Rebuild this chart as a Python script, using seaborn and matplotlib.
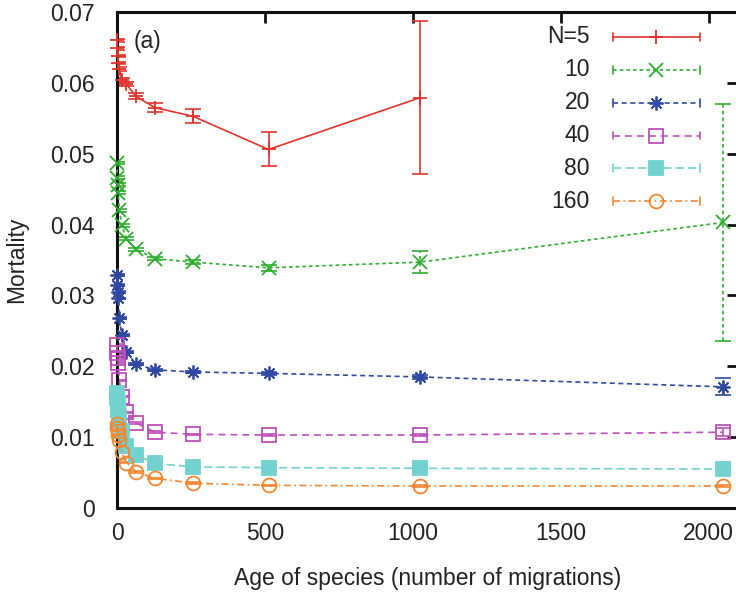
import numpy as np
import pandas as pd
import matplotlib
matplotlib.use("Agg")
import matplotlib.pyplot as plt
import seaborn as sns

# ---------------- data ----------------
ages = [0, 1, 2, 4, 8, 16, 32, 64, 128, 256, 512, 1024, 2048]
ages_5 = ages[:-1]

mort_5 = [0.0660, 0.0649, 0.0638, 0.0628, 0.0620, 0.0604, 0.0598, 0.0581,
          0.0565, 0.0553, 0.0506, 0.0579]
err_5 = [0.0002, 0.0002, 0.0002, 0.0002, 0.0003, 0.0003, 0.0003, 0.0004,
         0.0006, 0.0010, 0.0024, 0.0108]

mort_10 = [0.0487, 0.0466, 0.0456, 0.0445, 0.0420, 0.0399, 0.0380, 0.0365,
           0.0352, 0.0347, 0.0339, 0.0347, 0.0403]
err_10 = [0.0002, 0.0002, 0.0002, 0.0002, 0.0002, 0.0002, 0.0002, 0.0002,
          0.0002, 0.0003, 0.0004, 0.0016, 0.0167]

mort_20 = [0.0329, 0.0315, 0.0305, 0.0296, 0.0268, 0.0244, 0.0220, 0.0203,
           0.0195, 0.0192, 0.0190, 0.0185, 0.0171]
err_20 = [0.0001, 0.0001, 0.0001, 0.0001, 0.0001, 0.0001, 0.0001, 0.0001,
          0.0001, 0.0001, 0.0002, 0.0003, 0.0012]

mort_40 = [0.0230, 0.0219, 0.0212, 0.0205, 0.0180, 0.0157, 0.0135, 0.0120,
           0.0107, 0.0104, 0.0103, 0.0103, 0.0107]
err_40 = [0.0001, 0.0001, 0.0001, 0.0001, 0.0001, 0.0001, 0.0001, 0.0001,
          0.0001, 0.0001, 0.0001, 0.0002, 0.0006]

mort_80 = [0.0163, 0.0155, 0.0148, 0.0138, 0.0125, 0.0108, 0.0088, 0.0075,
           0.0063, 0.0058, 0.0057, 0.0056, 0.0055]
err_80 = [0.0001] * 11 + [0.0001, 0.0002]

mort_160 = [0.0118, 0.0113, 0.0108, 0.0103, 0.0096, 0.0079, 0.0064, 0.0051,
            0.0042, 0.0035, 0.0032, 0.0031, 0.0031]
err_160 = [0.0001] * 11 + [0.0001, 0.0002]

labels = ["N=5", "10", "20", "40", "80", "160"]
x_ticks = [0, 500, 1000, 1500, 2000]
y_ticks = [0, 0.01, 0.02, 0.03, 0.04, 0.05, 0.06, 0.07]
y_tick_labels = ["0", "0.01", "0.02", "0.03", "0.04", "0.05", "0.06", "0.07"]

# ---------------- style ----------------
sns.set_theme(style="white")
plt.rcParams["font.family"] = ["Liberation Sans", "DejaVu Sans"]
plt.rcParams["lines.scale_dashes"] = False
FS = 16.5

colors = ["#e2342c", "#2fae2f", "#2f49a3", "#bf4fbb", "#72d2cf", "#f38630"]
styles = [
    "-",
    (0, (2.6, 2.2)),
    (0, (3.6, 2.6)),
    (0, (5.0, 3.6)),
    (0, (6.0, 3.0)),
    (0, (5.0, 2.5, 1.2, 2.5)),
]
markers = ["+", "x", (8, 2, 0), "s", "s", "o"]
mfcs = [None, None, None, "none", None, "none"]
msizes = [10, 9.5, 10, 9.5, 9.5, 10]

series = [
    (ages_5, mort_5, err_5),
    (ages, mort_10, err_10),
    (ages, mort_20, err_20),
    (ages, mort_40, err_40),
    (ages, mort_80, err_80),
    (ages, mort_160, err_160),
]

fig = plt.figure(figsize=(7.36, 5.94), dpi=100)
ax = fig.add_axes([117 / 736, 1 - 508 / 594, 621.4 / 736, 496 / 594])

LW = 1.2
for (xs, ys, es), lab, c, ls, m, mfc, ms in zip(series, labels, colors, styles,
                                                  markers, mfcs, msizes):
    df = pd.DataFrame({"age": xs, "mortality": ys})
    kw = dict(markeredgecolor=c, markeredgewidth=1.3)
    kw["markerfacecolor"] = mfc if mfc is not None else c
    sns.lineplot(data=df, x="age", y="mortality", ax=ax, color=c,
                 linestyle=ls, linewidth=LW, marker=m, markersize=ms,
                 errorbar=None, clip_on=False, zorder=3, **kw)
    eb = ax.errorbar(xs, ys, yerr=es, fmt="none", ecolor=c, elinewidth=LW,
                     capsize=5.5, capthick=LW, zorder=2)
    eb[2][0].set_linestyle(ls)

# ---------------- legend (gnuplot-like key) ----------------
y0, dy = 0.9496, 0.0662
xl, x1, x2 = 0.761, 0.798, 0.938
for i, (lab, c, ls, m, mfc, ms) in enumerate(zip(labels, colors, styles,
                                                   markers, mfcs, msizes)):
    yy = y0 - i * dy
    ax.text(xl, yy, lab, transform=ax.transAxes, ha="right", va="center",
            fontsize=FS, color="#222222")
    ax.plot([x1, x2], [yy, yy], transform=ax.transAxes, color=c,
            linestyle=ls, linewidth=LW, clip_on=False)
    for xe in (x1, x2):
        ax.plot([xe, xe], [yy - 0.008, yy + 0.008], transform=ax.transAxes,
                color=c, linewidth=LW, clip_on=False)
    ax.plot([(x1 + x2) / 2], [yy], transform=ax.transAxes, color=c,
            marker=m, markersize=ms, markeredgecolor=c, markeredgewidth=1.3,
            markerfacecolor=(mfc if mfc is not None else c), clip_on=False)

ax.text(0.026, 0.94, "(a)", transform=ax.transAxes, ha="left", va="center",
        fontsize=FS, color="#222222")

# ---------------- axes ----------------
ax.set_xlim(0, 2100)
ax.set_ylim(0, 0.07)
ax.set_xticks(x_ticks)
ax.set_xticklabels([str(t) for t in x_ticks])
ax.set_yticks(y_ticks)
ax.set_yticklabels(y_tick_labels)
ax.tick_params(axis="both", direction="in", length=8, width=2.0,
               top=True, right=True, labelsize=FS, colors="#111111",
               labelcolor="#222222")
ax.tick_params(axis="y", pad=16)
ax.tick_params(axis="x", pad=10)
for s in ax.spines.values():
    s.set_linewidth(2.2)
    s.set_color("#111111")
ax.set_xlabel("Age of species (number of migrations)", fontsize=FS,
              labelpad=16, color="#222222")
ax.set_ylabel("Mortality", fontsize=FS, labelpad=16, color="#222222")
ax.grid(False)

fig.savefig("out.png", dpi=100)
